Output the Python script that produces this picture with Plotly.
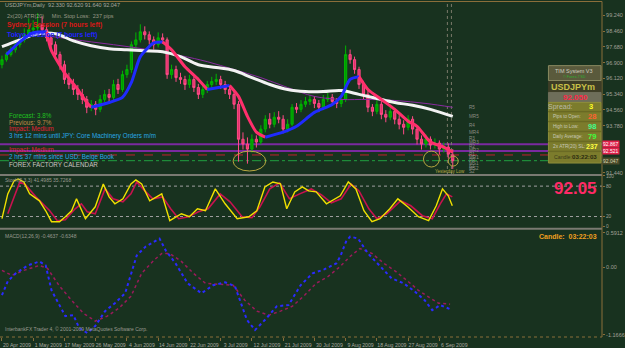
import plotly.graph_objects as go

# ---------------- data ----------------
bars = list(range(102))
open_ = [96.80, 97.05, 97.30, 97.54, 97.79, 98.03, 98.28, 98.53, 98.62, 98.77,
         98.53, 98.13, 97.79, 97.30, 96.80, 96.07, 95.82, 95.57, 95.33, 95.08,
         94.69, 94.84, 94.59, 95.08, 95.33, 95.18, 95.82, 95.57, 96.31, 96.56,
         97.79, 98.03, 98.43, 98.28, 98.03, 97.79, 98.13, 98.03, 96.31, 96.56,
         96.16, 96.07, 95.82, 96.07, 95.67, 95.33, 95.57, 95.82, 95.97, 96.07,
         95.82, 95.57, 95.33, 94.84, 93.11, 92.87, 92.62, 93.11, 92.97, 93.61,
         94.10, 93.85, 94.20, 94.10, 93.61, 93.85, 94.69, 94.59, 94.84, 94.98,
         95.08, 94.88, 94.69, 95.08, 95.18, 94.98, 94.88, 95.08, 97.30, 97.05,
         96.56, 95.82, 95.33, 94.69, 94.49, 94.84, 94.34, 94.20, 94.49, 94.10,
         93.85, 93.70, 94.10, 93.61, 93.11, 92.87, 93.11, 92.82, 92.92, 92.62,
         92.72, 92.33]
high = [97.25, 97.45, 97.70, 98.05, 98.20, 98.60, 99.10, 99.00, 99.35, 99.20,
        98.75, 98.30, 97.95, 97.45, 97.00, 96.40, 96.10, 95.80, 95.60, 95.25,
        95.05, 95.00, 95.30, 95.55, 95.60, 96.05, 96.10, 96.50, 96.80, 97.95,
        98.40, 98.80, 98.70, 98.45, 98.20, 98.40, 98.35, 98.15, 96.80, 96.75,
        96.40, 96.25, 96.30, 96.20, 95.85, 95.80, 96.00, 96.20, 96.35, 96.25,
        96.00, 95.75, 95.50, 95.00, 93.45, 93.20, 93.35, 93.30, 93.80, 94.30,
        94.40, 94.45, 94.50, 94.30, 94.10, 94.85, 94.90, 95.05, 95.20, 95.30,
        95.25, 95.05, 95.30, 95.40, 95.35, 95.15, 95.30, 97.75, 97.55, 97.20,
        96.70, 96.00, 95.50, 94.85, 95.05, 95.00, 94.55, 94.70, 94.65, 94.30,
        94.05, 94.30, 94.25, 93.80, 93.30, 93.35, 93.25, 93.15, 93.05, 92.95,
        92.90, 92.62]
low = [96.62, 96.95, 97.20, 97.40, 97.65, 97.90, 98.10, 98.35, 98.45, 98.30,
       97.95, 97.55, 97.10, 96.55, 95.85, 95.60, 95.30, 95.05, 94.85, 94.40,
       94.50, 94.30, 94.45, 94.95, 94.95, 95.05, 95.35, 95.45, 96.15, 96.40,
       97.60, 97.90, 98.05, 97.80, 97.55, 97.65, 97.85, 96.10, 96.10, 95.95,
       95.85, 95.55, 95.65, 95.45, 95.10, 95.15, 95.40, 95.65, 95.80, 95.60,
       95.35, 95.10, 94.60, 92.00, 92.60, 91.90, 92.45, 92.70, 92.85, 93.45,
       93.65, 93.70, 93.90, 93.40, 93.45, 93.75, 94.40, 94.45, 94.70, 94.80,
       94.65, 94.45, 94.55, 94.95, 94.80, 94.65, 94.70, 94.95, 96.85, 96.35,
       95.60, 95.10, 94.45, 94.25, 94.35, 94.10, 93.95, 94.05, 93.85, 93.60,
       93.35, 93.55, 93.35, 92.85, 92.60, 92.70, 92.60, 92.65, 92.35, 92.45,
       92.15, 91.64]
close = [97.05, 97.30, 97.54, 97.79, 98.03, 98.28, 98.53, 98.62, 98.77, 98.53,
         98.13, 97.79, 97.30, 96.80, 96.07, 95.82, 95.57, 95.33, 95.08, 94.69,
         94.84, 94.59, 95.08, 95.33, 95.18, 95.82, 95.57, 96.31, 96.56, 97.79,
         98.03, 98.43, 98.28, 98.03, 97.79, 98.13, 98.03, 96.31, 96.56, 96.16,
         96.07, 95.82, 96.07, 95.67, 95.33, 95.57, 95.82, 95.97, 96.07, 95.82,
         95.57, 95.33, 94.84, 93.11, 92.87, 92.62, 93.11, 92.97, 93.61, 94.10,
         93.85, 94.20, 94.10, 93.61, 93.85, 94.69, 94.59, 94.84, 94.98, 95.08,
         94.88, 94.69, 95.08, 95.18, 94.98, 94.88, 95.08, 97.30, 97.05, 96.56,
         95.82, 95.33, 94.69, 94.49, 94.84, 94.34, 94.20, 94.49, 94.10, 93.85,
         93.70, 94.10, 93.61, 93.11, 92.87, 93.11, 92.82, 92.92, 92.62, 92.72,
         92.37, 92.05]

white_ma_x = [0, 4, 8, 12, 16, 20, 24, 28, 32, 36, 40, 44, 48, 52, 56, 60, 64, 68, 72, 76, 80, 84, 88, 92, 96, 101]
white_ma = [97.69, 98.03, 98.33, 98.33, 97.98, 97.74, 97.59, 97.54, 97.49, 97.44, 97.20, 96.80, 96.66,
            96.51, 96.16, 95.82, 95.57, 95.47, 95.47, 95.52, 95.33, 95.13, 94.93, 94.79, 94.59, 94.24]

thin_ma_x = [10, 20, 30, 40, 46, 52, 58, 64, 70, 76, 82, 88, 95, 101]
thin_ma = [98.23, 97.93, 97.64, 97.25, 96.95, 96.56, 96.16, 95.67, 95.23, 95.08, 95.08, 95.03, 94.88, 94.69]

fast_ma_x = [1, 4, 7, 10, 11, 14, 17, 19, 20, 24, 27, 29, 31, 34, 36, 38, 41, 44, 46, 51, 53, 55, 57, 59,
             63, 66, 70, 74, 76, 78, 80, 82, 85, 88, 91, 93, 96, 99, 101]
fast_ma = [97.30, 97.93, 98.38, 98.43, 97.54, 96.41, 95.57, 94.93, 94.69, 94.93, 95.18, 95.92, 97.20,
           97.88, 97.93, 97.54, 96.70, 96.07, 95.57, 95.77, 95.23, 94.24, 93.46, 93.21, 93.46, 93.75,
           94.44, 94.83, 95.23, 96.07, 96.21, 95.57, 95.08, 94.59, 94.00, 93.75, 92.97, 92.72, 92.47]

stoch_k_x = [0, 1.3, 2.7, 3.6, 4.9, 6.2, 8.4, 9.8, 11.1, 12.9, 14.2, 15.6, 16.7, 17.8, 18.7, 20.9, 22.7, 24,
             25.3, 27.1, 28.9, 30, 31.3, 33.1, 34.9, 35.8, 37.6, 40.2, 42, 43.8, 45.6, 47.8, 50, 52.7, 55.3,
             57.1, 58.9, 60.7, 62.4, 63.8, 65.6, 67.3, 68.7, 70.4, 72.7, 74, 75.8, 77.6, 79.3, 81.1, 82.9,
             84.7, 86.9, 88.7, 90.9, 93.3, 95.6, 97.3, 98.7, 100, 100.9]
stoch_k = [15.7, 64.7, 90.2, 94.1, 88.2, 64.7, 51.0, 31.4, 9.8, 9.8, 19.6, 31.4, 54.9, 31.4, 15.7, 39.2,
           84.3, 58.8, 45.1, 54.9, 84.3, 92.2, 84.3, 51.0, 60.8, 64.7, 11.8, 25.5, 19.6, 35.3, 31.4, 74.5,
           45.1, 15.7, 19.6, 31.4, 78.4, 88.2, 84.3, 35.3, 68.6, 78.4, 70.6, 68.6, 45.1, 51.0, 60.8, 88.2,
           74.5, 31.4, 9.8, 15.7, 35.3, 54.9, 39.2, 19.6, 11.8, 41.2, 74.5, 60.8, 41.2]
stoch_d_x = [1.3, 4, 5.3, 7.6, 10.7, 12.4, 14.2, 16.4, 17.8, 19.1, 20.9, 23.1, 24.9, 27.1, 28.9, 30.2, 32,
             33.8, 36, 37.8, 39.6, 41.8, 44, 46.2, 48.9, 51.1, 53.8, 56, 57.8, 60, 62.2, 64.4, 66.7, 69.3,
             71.6, 73.8, 76, 78.2, 80, 82.2, 84, 86.2, 89.3, 91.6, 94.2, 96.4, 98.2, 99.6, 100.9]
stoch_d = [25.5, 88.2, 82.4, 58.8, 31.4, 11.8, 13.7, 35.3, 45.1, 29.4, 25.5, 74.5, 54.9, 49.0, 64.7, 88.2,
           70.6, 54.9, 58.8, 35.3, 15.7, 19.6, 29.4, 35.3, 64.7, 49.0, 19.6, 17.6, 39.2, 74.5, 86.3, 54.9,
           64.7, 74.5, 62.7, 47.1, 54.9, 84.3, 70.6, 35.3, 15.7, 25.5, 51.0, 41.2, 21.6, 15.7, 45.1, 64.7, 58.8]

macd_x = [0, 1.3, 3.1, 5.8, 8.4, 9.8, 11.1, 12.9, 14.2, 16, 17.3, 19.1, 20.9, 23.1, 25.3, 27.6, 28.9, 30.2,
          32.2, 34, 35.3, 36.7, 38.9, 41.6, 44.7, 47.3, 50, 52.2, 53.6, 54.9, 56.7, 58.9, 61.6, 64.2, 66.9,
          69.6, 72.2, 74.9, 75.8, 77.1, 78, 79.8, 82, 84.7, 87.3, 90, 92.4, 94.7, 96.4, 98.2, 100.4]
macd = [-0.484, -0.245, -0.108, 0.028, 0.096, 0.028, -0.399, -0.672, -0.842, -0.825, -1.047, -1.132, -1.013,
        -0.757, -0.620, -0.450, -0.108, 0.199, 0.352, 0.438, 0.489, 0.284, 0.062, -0.279, -0.450, -0.313,
        -0.262, -0.330, -0.620, -0.910, -1.081, -0.910, -0.672, -0.654, -0.313, -0.108, -0.040, 0.062, 0.182,
        0.438, 0.523, 0.489, 0.233, 0.011, -0.194, -0.279, -0.416, -0.569, -0.740, -0.654, -0.723]
signal_x = [0, 2.2, 4.9, 8.4, 10.2, 12.9, 15.6, 18.2, 20.9, 23.6, 26.2, 28.9, 31.3, 34, 35.8, 37.6, 40.2,
            42.9, 45.6, 49.1, 51.8, 54.4, 57.1, 59.8, 62.4, 65.1, 67.8, 70.4, 73.1, 75.8, 78, 80.2, 82.9,
            85.6, 88.2, 90.7, 93.3, 96, 97.8, 100.4]
signal = [-0.057, -0.143, -0.057, 0.028, -0.023, -0.330, -0.569, -0.791, -0.928, -0.842, -0.706, -0.501,
          -0.108, 0.113, 0.233, 0.233, 0.096, -0.108, -0.279, -0.296, -0.313, -0.569, -0.757, -0.825, -0.757,
          -0.672, -0.484, -0.279, -0.160, 0.011, 0.182, 0.318, 0.233, 0.062, -0.074, -0.228, -0.399, -0.535,
          -0.620, -0.638]

date_tick_bars = [0, 7, 14, 21, 28, 35, 42, 49, 56, 63, 70, 77, 84, 91, 98]
date_labels = ["20 Apr 2009", "1 May 2009", "17 May 2009", "26 May 2009", "4 Jun 2009", "14 Jun 2009",
               "22 Jun 2009", "3 Jul 2009", "12 Jul 2009", "21 Jul 2009", "30 Jul 2009", "9 Aug 2009",
               "18 Aug 2009", "27 Aug 2009", "6 Sep 2009"]
price_ticks = [91.44, 93.78, 94.56, 95.34, 96.12, 96.90, 97.68, 98.46, 99.24]
stoch_ticks = [0, 20, 80, 100]
macd_ticks = [-1.1666, 0.0, 0.5912]
macd_tick_text = ["-1.1666", "0.00", "0.5912"]

level_alert_hi = 92.867
level_alert_lo = 92.521
day_open = 92.33
bid = 92.047
pivot_names = ["R5", "MR5", "R4", "MR4", "R3", "MR3", "R2", "MR2", "R1", "MR1", "PP", "MS1", "S1", "MS2", "S2"]
pivot_prices = [94.69, 94.24, 93.80, 93.46, 93.16, 92.97, 92.77, 92.57, 92.37, 92.23, 92.08, 91.93, 91.78, 91.64, 91.49]

# ---------------- styling helpers ----------------
BG = "#18321f"
FONT = "Liberation Sans"
W, H, BOTTOM = 607.0, 336.0, 339.0
XR = [-0.44, 134.44]


def P(x, y):
    return x / W, (BOTTOM - y) / H


fig = go.Figure()

fig.add_trace(go.Candlestick(
    x=bars, open=open_, high=high, low=low, close=close, xaxis="x", yaxis="y",
    increasing=dict(line=dict(color="#00b400", width=1), fillcolor="#009a00"),
    decreasing=dict(line=dict(color="#ff4a86", width=1), fillcolor="#e0306a"),
    whiskerwidth=0, hoverinfo="skip"))

fig.add_trace(go.Scatter(x=thin_ma_x, y=thin_ma, mode="lines", line=dict(color="#8a2aa0", width=1, shape="spline"),
                         xaxis="x", yaxis="y", hoverinfo="skip"))
fig.add_trace(go.Scatter(x=white_ma_x, y=white_ma, mode="lines", line=dict(color="#f2f2f2", width=3, shape="spline"),
                         xaxis="x", yaxis="y", hoverinfo="skip"))

# fast MA coloured by direction (rising blue, falling pink)
runs = []
start = 0
for k in range(1, len(fast_ma) - 1):
    up_prev = fast_ma[k] >= fast_ma[k - 1]
    up_next = fast_ma[k + 1] >= fast_ma[k]
    if up_prev != up_next:
        runs.append((start, k, up_prev))
        start = k
runs.append((start, len(fast_ma) - 1, fast_ma[-1] >= fast_ma[-2]))
for s, e, up in runs:
    fig.add_trace(go.Scatter(x=fast_ma_x[s:e + 1], y=fast_ma[s:e + 1], mode="lines",
                             line=dict(color="#1f2bff" if up else "#ff2f6c", width=3, shape="spline",
                                       smoothing=0.6),
                             xaxis="x", yaxis="y", hoverinfo="skip"))

# stochastic
fig.add_trace(go.Scatter(x=stoch_d_x, y=stoch_d, mode="lines", line=dict(color="#c8124e", width=1.6),
                         xaxis="x2", yaxis="y2", hoverinfo="skip"))
fig.add_trace(go.Scatter(x=stoch_k_x, y=stoch_k, mode="lines", line=dict(color="#f0e000", width=1.4),
                         xaxis="x2", yaxis="y2", hoverinfo="skip"))

# macd
fig.add_trace(go.Scatter(x=signal_x, y=signal, mode="lines", line=dict(color="#9a1a5a", width=1.5, dash="dot"),
                         xaxis="x3", yaxis="y3", hoverinfo="skip"))
fig.add_trace(go.Scatter(x=macd_x, y=macd, mode="lines", line=dict(color="#2a2aff", width=2, dash="dot"),
                         xaxis="x3", yaxis="y3", hoverinfo="skip"))

shapes = []
# level lines on price chart
shapes.append(dict(type="line", xref="paper", x0=0, x1=1, yref="y", y0=level_alert_hi, y1=level_alert_hi,
                   line=dict(color="#7a2aa0", width=2), layer="below"))
shapes.append(dict(type="line", xref="paper", x0=0, x1=1, yref="y", y0=level_alert_lo, y1=level_alert_lo,
                   line=dict(color="#7a2aa0", width=2), layer="below"))
shapes.append(dict(type="line", xref="paper", x0=0, x1=1, yref="y", y0=day_open, y1=day_open,
                   line=dict(color="#c02030", width=1, dash="dash"), layer="below"))
shapes.append(dict(type="line", xref="paper", x0=0, x1=1, yref="y", y0=bid, y1=bid,
                   line=dict(color="#20a040", width=1, dash="dashdot"), layer="below"))
# stoch levels
for lv in (20, 80):
    shapes.append(dict(type="line", xref="paper", x0=0, x1=1, yref="y2", y0=lv, y1=lv,
                       line=dict(color="#a0a0a0", width=1, dash="dot"), layer="below"))
# vertical session separators
for xv in (99.8, 100.7):
    shapes.append(dict(type="line", xref="x", x0=xv, x1=xv, yref="paper", y0=P(0, 176)[1], y1=1,
                       line=dict(color="#7a7a6a", width=1, dash="dot"), layer="below"))
# panel borders
for yy in (176, 230):
    shapes.append(dict(type="line", xref="paper", x0=0, x1=1, yref="paper", y0=P(0, yy)[1], y1=P(0, yy)[1],
                       line=dict(color="#7a7a72", width=2)))
shapes.append(dict(type="line", xref="paper", x0=0, x1=1, yref="paper", y0=P(0, 1.5)[1], y1=P(0, 1.5)[1],
                   line=dict(color="#8a6e3a", width=1)))
shapes.append(dict(type="line", xref="paper", x0=0, x1=1, yref="paper", y0=0, y1=0,
                   line=dict(color="#8a6e3a", width=1, dash="dot")))
shapes.append(dict(type="line", xref="paper", x0=1, x1=1, yref="paper", y0=0, y1=P(0, 1.5)[1],
                   line=dict(color="#8a6e3a", width=1)))
# ellipses
for (x0, y0, x1, y1) in [(235, 152, 268, 172), (427, 152, 443, 168), (452, 157, 462, 167)]:
    a, b = P(x0, y0)
    c, d = P(x1, y1)
    shapes.append(dict(type="circle", xref="paper", yref="paper", x0=a, y0=d, x1=c, y1=b,
                       line=dict(color="#b8a840", width=1)))


def box(x0, y0, x1, y1, fill, line=None):
    a, b = P(x0, y0)
    c, d = P(x1, y1)
    shapes.append(dict(type="rect", xref="paper", yref="paper", x0=a, y0=d, x1=c, y1=b,
                       fillcolor=fill, line=dict(color=line or fill, width=1)))


# info panel
box(553, 66, 606, 81, "#5a5a3c", "#8a8a60")
box(553, 82, 606, 94, "#3d3d26")
box(553, 93, 606, 103, "#6e6e5a")
box(553, 103, 606, 164, "#7c7c2c", "#8e8e3a")
for yy in (112, 122, 132, 142, 152):
    box(553, yy, 606, yy + 0.5, "#6a6a24")

ann = []


def txt(x, y, s, color, size, anchor="left", xref="paper", yref="paper", bg=None, bold=False, family=FONT):
    xx = P(x, 0)[0] if xref == "paper" else x
    yy = P(0, y)[1] if yref == "paper" else y
    d = dict(x=xx, y=yy, xref=xref, yref=yref, text=("<b>%s</b>" % s) if bold else s, showarrow=False,
             xanchor=anchor, yanchor="middle", font=dict(color=color, size=size, family=family))
    if bg:
        d.update(bgcolor=bg, borderpad=0)
    ann.append(d)


txt(3, 5, "USDJPYm,Daily  92.330 92.620 91.640 92.047", "#a8a8a0", 5.5)
txt(5, 16, "2x(20) ATR(20)     Min. Stop Loss:  237 pips", "#9a9a88", 5.5)
txt(5, 25, "Sydney Session (7 hours left)", "#d81818", 6.8, bold=True)
txt(5, 35, "Tokyo Session (7 hours left)", "#2222ff", 6.8, bold=True)
txt(7, 116, "Forecast: 3.8%", "#20c020", 6.3)
txt(7, 123, "Previous: 9.7%", "#c08a48", 6.3)
txt(7, 130, "Impact: Medium", "#e02038", 6.3)
txt(7, 137, "3 hrs 12 mins until JPY: Core Machinery Orders m/m", "#28a8e8", 6.3)
txt(7, 151, "Impact: Medium", "#e02038", 6.3)
txt(7, 158, "2 hrs 37 mins since USD: Beige Book", "#28a8e8", 6.3)
txt(7, 165, "FOREX FACTORY CALENDAR", "#c8c8c0", 6.3)
txt(437, 173, "Yesterday Low", "#b8a840", 4.5)
for nm, pv in zip(pivot_names, pivot_prices):
    txt(104.3, pv, nm, "#8c8c84", 4.6, xref="x", yref="y")

# info panel text
txt(579, 71, "TIM System V3", "#d0d0c0", 5.5, anchor="center")
txt(579, 77.5, "© Forex-TSD", "#30b030", 3.8, anchor="center")
txt(554, 88, "USDJPYm", "#c8c048", 9, bold=True)
txt(580, 98, "92.050", "#ff2848", 8, anchor="center", bold=True)
txt(580, 107.5, "Spread:", "#b8b8a8", 7, anchor="right")
txt(596, 107.5, "3", "#ffff20", 7.5, anchor="center", bold=True)
txt(556, 117.5, "Pips to Open:", "#c8c8b8", 4.6)
txt(597, 117.5, "28", "#ff6030", 7.5, anchor="center", bold=True)
txt(556, 127.5, "High to Low:", "#c8c8b8", 4.6)
txt(597, 127.5, "98", "#40ff90", 7.5, anchor="center", bold=True)
txt(556, 137.5, "Daily Average:", "#c8c8b8", 4.6)
txt(597, 137.5, "79", "#40ff40", 7.5, anchor="center", bold=True)
txt(556, 147.5, "2x ATR(20) SL:", "#c8c8b8", 4.8)
txt(597, 147.5, "237", "#ffff40", 7, anchor="center", bold=True)
txt(557, 157.5, "Candle:", "#3a3a1a", 5.2)
txt(589, 157.5, "03:22:03", "#2a2a10", 6.2, anchor="center", bold=True)

# right side price boxes
for val, bgc, fc in [(level_alert_hi, "#e0204a", "#ffffff"), (level_alert_lo, "#e0204a", "#ffffff"),
                     (bid, "#4a4a2a", "#d8d8b0")]:
    ann.append(dict(x=1.0, y=val, xref="paper", yref="y", xanchor="left", yanchor="middle",
                    text="%.3f" % val, showarrow=False, bgcolor=bgc, borderpad=0,
                    font=dict(color=fc, size=5, family=FONT)))

txt(3, 181, "Stoch(5,3,3) 41.4985 35.7268", "#9a9a90", 5)
txt(604, 190, "92.05", "#ff2a66", 17, anchor="right", bold=True)
txt(3, 237, "MACD(12,26,9) -0.4637 -0.6348", "#9a9a90", 5)
txt(604, 238, "Candle:  03:22:03", "#f0a020", 7, anchor="right", bold=True)
txt(3, 331, "InterbankFX Trader 4, © 2001-2009 MetaQuotes Software Corp.", "#9a9a90", 5)

axis_common = dict(showgrid=False, zeroline=False, range=XR, fixedrange=True)
ylab = dict(size=5.5, color="#a0a098", family=FONT)

fig.update_layout(
    width=625, height=348, margin=dict(l=0, r=18, t=3, b=9),
    paper_bgcolor=BG, plot_bgcolor=BG, showlegend=False,
    xaxis=dict(domain=[0, 1], anchor="y", showticklabels=False, rangeslider=dict(visible=False), **axis_common),
    xaxis2=dict(domain=[0, 1], anchor="y2", showticklabels=False, **axis_common),
    xaxis3=dict(domain=[0, 1], anchor="y3", tickvals=date_tick_bars, ticktext=date_labels, tickangle=0,
                ticks="outside", ticklen=3, tickcolor="#8a6e3a", ticklabelshift=15, ticklabelstandoff=0,
                tickfont=dict(size=5.2, color="#a8a8a0", family=FONT), **axis_common),
    yaxis=dict(domain=[P(0, 176)[1], 1], range=[91.34, 99.855], side="right", anchor="x",
               tickvals=price_ticks, ticktext=["%.3f" % v for v in price_ticks], ticks="outside", ticklen=2,
               tickcolor="#8a6e3a", tickfont=ylab, showgrid=False, zeroline=False),
    yaxis2=dict(domain=[P(0, 230)[1], P(0, 176)[1]], range=[-3.9, 102], side="right", anchor="x2",
                tickvals=stoch_ticks, ticktext=[str(v) for v in stoch_ticks], ticks="outside", ticklen=2,
                tickcolor="#8a6e3a", tickfont=dict(size=4.8, color="#a0a098", family=FONT),
                showgrid=False, zeroline=False),
    yaxis3=dict(domain=[0, P(0, 231)[1]], range=[-1.201, 0.642], side="right", anchor="x3",
                tickvals=macd_ticks, ticktext=macd_tick_text, ticks="outside", ticklen=2,
                tickcolor="#8a6e3a", tickfont=ylab, showgrid=False, zeroline=False),
    shapes=shapes, annotations=ann,
)

fig.write_html("out.html")
